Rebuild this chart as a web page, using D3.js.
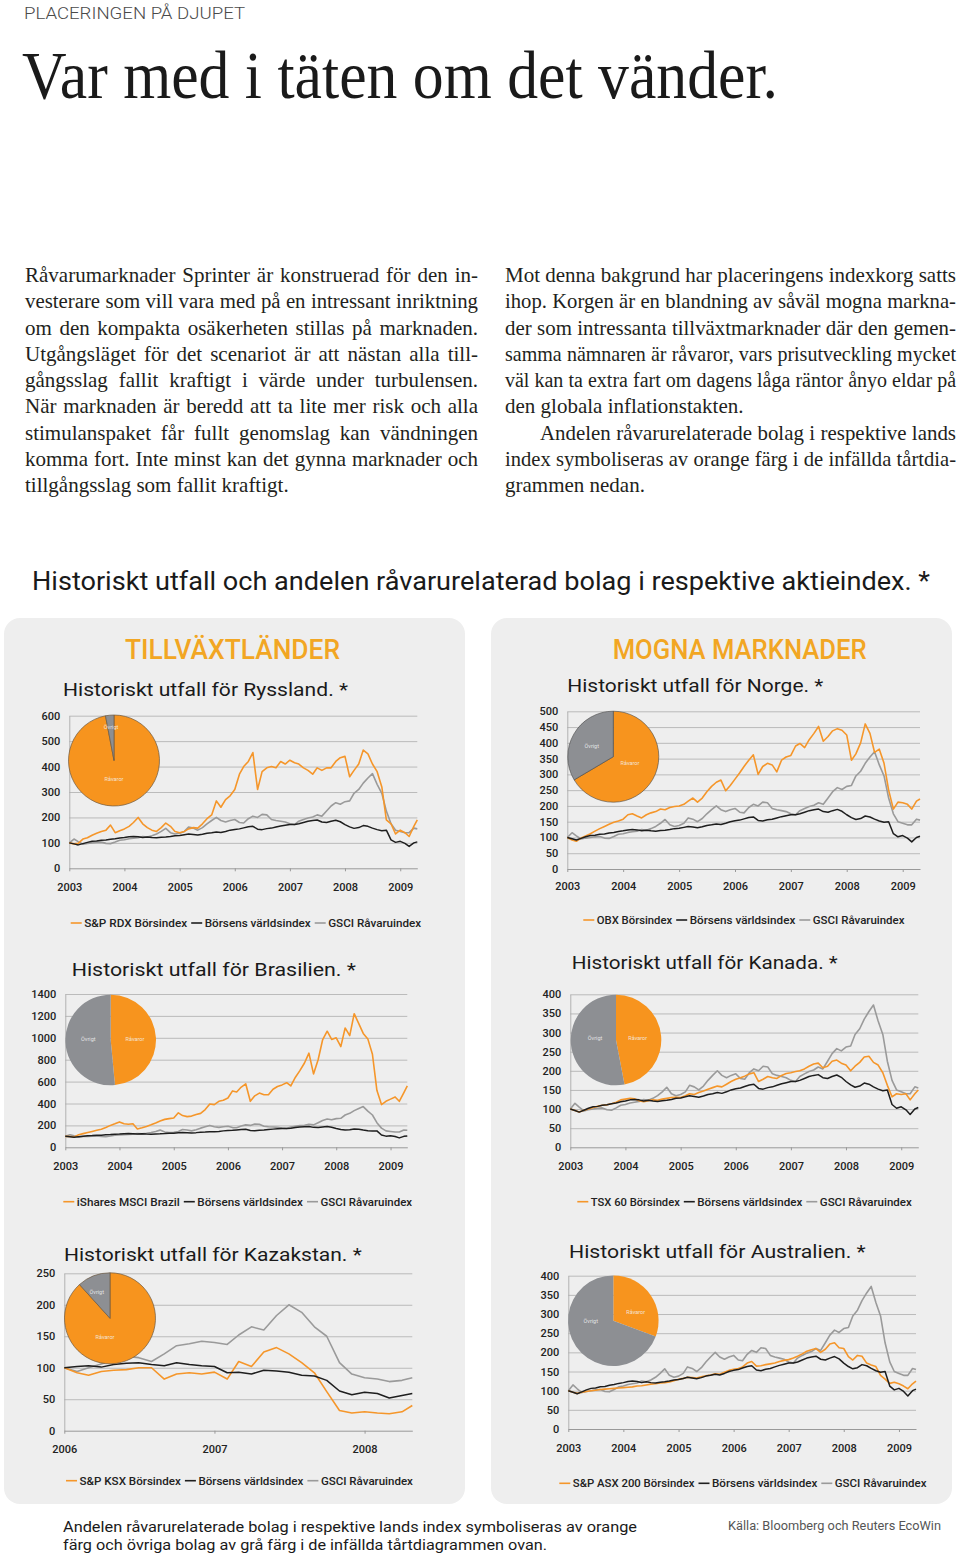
<!DOCTYPE html>
<html><head><meta charset="utf-8">
<script src="https://cdn.jsdelivr.net/npm/d3@7"></script>
<style>body{margin:0;background:#fff}svg{display:block}</style>
</head><body>
<svg id="c" width="960" height="1556"></svg>
<script>
// ---------- DATA ----------
const yearsMain = [2003,2004,2005,2006,2007,2008,2009];
const yearsKaz = [2006,2007,2008];
const yTicksRussia = [0,100,200,300,400,500,600];
const yTicksNorway = [0,50,100,150,200,250,300,350,400,450,500];
const yTicksBrazil = [0,200,400,600,800,1000,1200,1400];
const yTicksCanada = [0,50,100,150,200,250,300,350,400];
const yTicksKaz = [0,50,100,150,200,250];
const yTicksAustralia = [0,50,100,150,200,250,300,350,400];

// monthly readings Jan 2003 ... Apr 2009 + last day shown
const worldIndex = [
100,96,92,97,102,106,107,110,111,114,116,119,
121,124,125,124,121,123,121,120,122,123,125,128,
129,132,135,133,131,134,138,140,143,141,145,150,
153,155,159,163,165,154,152,156,158,162,166,169,
172,172,175,180,185,188,190,182,180,185,189,183,
172,163,157,160,168,165,158,152,148,150,112,102,
106,98,86,100,104];
const gsciIndex = [
100,115,105,95,98,100,102,103,98,97,103,110,
112,116,118,120,125,123,128,135,145,157,140,135,
138,145,162,158,150,160,175,188,200,188,182,188,
192,180,178,195,205,200,212,210,192,188,185,182,
175,172,185,192,198,202,210,205,225,245,258,252,
262,265,295,310,335,355,372,330,295,225,175,150,
145,140,140,158,155];
const russiaRDX = [
100,96,98,115,120,130,138,145,150,170,140,148,
155,165,180,200,175,160,150,145,160,178,165,145,
140,145,155,160,158,175,195,210,265,240,270,285,
310,370,400,420,455,310,380,395,400,395,420,410,
425,415,410,395,385,370,395,385,395,395,420,435,
440,360,385,410,465,450,410,380,320,190,175,135,
150,140,125,165,190];
const norwayOBX = [
100,92,88,98,105,112,120,128,135,142,148,152,
158,172,175,168,162,172,178,182,190,188,195,198,
200,205,215,225,212,225,245,262,275,282,248,265,
285,305,325,345,362,300,325,335,330,308,345,355,
360,390,398,385,410,430,452,405,420,438,445,440,
425,345,365,400,460,430,370,380,335,250,190,212,
210,205,190,215,222];
const brazilMSCI = [
100,98,95,115,125,135,145,155,165,180,200,215,
232,215,210,215,168,178,190,205,222,240,255,262,
268,315,290,280,285,300,310,345,395,390,420,430,
450,515,505,550,580,420,470,495,480,480,530,555,
570,590,560,640,700,770,860,670,800,980,1060,985,
1000,920,1090,1020,1220,1130,1040,990,850,520,390,420,
440,460,420,500,560];
const canadaTSX = [
100,96,92,97,100,104,107,110,111,114,118,124,
126,128,127,122,119,122,124,123,126,128,130,131,
130,135,140,138,143,147,152,156,160,158,165,172,
178,182,186,192,195,172,178,185,182,180,188,193,
195,198,200,205,212,218,220,208,212,225,228,220,
215,200,212,222,236,238,222,215,195,162,132,140,
138,140,124,140,150];
const australiaASX = [
100,96,93,96,98,100,101,103,104,105,106,107,
108,109,110,112,113,115,117,118,120,121,123,126,
130,132,135,134,133,136,139,141,144,143,148,153,
156,158,162,172,176,164,165,168,170,172,176,179,
181,185,190,196,203,207,210,200,208,222,225,212,
210,189,180,192,190,172,167,163,140,130,119,122,
118,112,105,118,125];
// Kazakstan: monthly Jan 2006 ... Apr 2008 + last day shown
const kazKSX = [100,92,88,94,96,97,100,100,82,90,92,90,93,82,110,102,125,132,122,108,92,62,32,28,30,28,27,30,40];
const kazWorld = [100,102,103,101,105,107,108,105,103,108,105,103,102,92,93,90,96,95,93,88,87,80,63,57,61,59,52,56,59];
const kazGSCI = [100,94,100,106,112,118,116,110,122,135,138,142,140,137,152,165,160,183,200,188,165,150,108,90,84,82,78,80,84];

// share of commodity related companies (Råvaror, %) in each index
const pieShareRussia = [97, 3];
const pieShareNorway = [66.5, 33.5];
const pieShareBrazil = [48.5, 51.5];
const pieShareCanada = [47, 53];
const pieShareKaz = [88.3, 11.7];
const pieShareAustralia = [30.7, 69.3];
const pieLabels = ['Råvaror','Övrigt'];

const legendRussia = ['S&P RDX Börsindex','Börsens världsindex','GSCI Råvaruindex'];
const legendNorway = ['OBX Börsindex','Börsens världsindex','GSCI Råvaruindex'];
const legendBrazil = ['iShares MSCI Brazil','Börsens världsindex','GSCI Råvaruindex'];
const legendCanada = ['TSX 60 Börsindex','Börsens världsindex','GSCI Råvaruindex'];
const legendKaz = ['S&P KSX Börsindex','Börsens världsindex','GSCI Råvaruindex'];
const legendAustralia = ['S&P ASX 200 Börsindex','Börsens världsindex','GSCI Råvaruindex'];

const kicker = 'PLACERINGEN PÅ DJUPET';
const headline = 'Var med i täten om det vänder.';
const leftColumn = [
'Råvarumarknader Sprinter är konstruerad för den in-',
'vesterare som vill vara med på en intressant inriktning',
'om den kompakta osäkerheten stillas på marknaden.',
'Utgångsläget för det scenariot är att nästan alla till-',
'gångsslag fallit kraftigt i värde under turbulensen.',
'När marknaden är beredd att ta lite mer risk och alla',
'stimulanspaket får fullt genomslag kan vändningen',
'komma fort. Inte minst kan det gynna marknader och',
'tillgångsslag som fallit kraftigt.'];
const rightColumn = [
'Mot denna bakgrund har placeringens indexkorg satts',
'ihop. Korgen är en blandning av såväl mogna markna-',
'der som intressanta tillväxtmarknader där den gemen-',
'samma nämnaren är råvaror, vars prisutveckling mycket',
'väl kan ta extra fart om dagens låga räntor ånyo eldar på',
'den globala inflationstakten.',
'Andelen råvarurelaterade bolag i respektive lands',
'index symboliseras av orange färg i de infällda tårtdia-',
'grammen nedan.'];
const sectionTitle = 'Historiskt utfall och andelen råvarurelaterad bolag i respektive aktieindex. *';
const groupLeft = 'TILLVÄXTLÄNDER', groupRight = 'MOGNA MARKNADER';
const chartTitles = ['Historiskt utfall för Ryssland. *','Historiskt utfall för Norge. *','Historiskt utfall för Brasilien. *','Historiskt utfall för Kanada. *','Historiskt utfall för Kazakstan. *','Historiskt utfall för Australien. *'];
const footnote = ['Andelen råvarurelaterade bolag i respektive lands index symboliseras av orange','färg och övriga bolag av grå färg i de infällda tårtdiagrammen ovan.'];
const source = 'Källa: Bloomberg och Reuters EcoWin';

// ---------- DRAW ----------
const svg = d3.select('#c');
const ORANGE = '#f5962a', PIE_OR = '#f7941e', PIE_GR = '#8d8f93', GRAY = '#9a9a9a', BLACK = '#1e1e1e';
const SANS = 'Roboto, "Noto Sans", sans-serif';
const SERIF = '"Liberation Serif", "DejaVu Serif", serif';

svg.append('rect').attr('width',960).attr('height',1556).attr('fill','#fff');

function fitText(x,y,str,size,w,opts={}){
  const t = svg.append('text').attr('x',x).attr('y',y).attr('font-family',opts.family||SANS)
    .attr('font-size',size).attr('fill',opts.fill||'#1a1a1a').attr('font-weight',opts.weight||400).text(str);
  if(w) t.attr('textLength',w).attr('lengthAdjust','spacingAndGlyphs');
  return t;
}
fitText(24,19,kicker,16,221,{weight:300,fill:'#4a4a4a'});
fitText(22,98,headline,68,756,{family:SERIF,fill:'#1a1a1a'});

function column(lines,x,w,indentIdx,lastIdx){
  lines.forEach((s,i)=>{
    const xi = indentIdx.includes(i) ? x+35 : x;
    const wi = w - (xi-x);
    let fs = 21;
    const t = svg.append('text').attr('x',xi).attr('y',282+26.25*i).attr('font-family',SERIF)
      .attr('font-size',fs).attr('fill','#231f20').text(s);
    let L = t.node().getComputedTextLength();
    if(L>wi){ fs = fs*wi/L*0.998; t.attr('font-size',fs); L = t.node().getComputedTextLength(); }
    if(lastIdx.includes(i)) return;
    const sp = (s.match(/ /g)||[]).length;
    if(L<wi && sp>0) t.attr('word-spacing',(wi-L)/sp);
  });
}
column(leftColumn,25,453,[],[8]);
column(rightColumn,505,451,[6],[5,8]);

fitText(32,590,sectionTitle,25,898,{weight:400,fill:'#1a1a1a'});

// panels
svg.append('rect').attr('x',4).attr('y',618).attr('width',461).attr('height',886).attr('rx',16).attr('fill','#eeeeee');
svg.append('rect').attr('x',491).attr('y',618).attr('width',461).attr('height',886).attr('rx',16).attr('fill','#eeeeee');
fitText(125,659,groupLeft,27,215,{weight:500,fill:'#f2a623'});
fitText(612.7,659,groupRight,27,254,{weight:500,fill:'#f2a623'});

const mainDates = d3.timeMonth.range(new Date(2003,0,1), new Date(2009,4,1)).concat([new Date(2009,3,24)]);
const kazDates = d3.timeMonth.range(new Date(2006,0,1), new Date(2008,4,1)).concat([new Date(2008,3,26)]);
const mainDomain = [new Date(2003,0,1), new Date(2009,3,24)];
const kazDomain = [new Date(2006,0,1), new Date(2008,3,26)];

const charts = [
 {t:0, tx:63, ty:696, tw:285, x0:69.3, x1:417.3, yB:868.3, yT:715.7, yt:yTicksRussia, dates:mainDates, dom:mainDomain, xt:yearsMain, xPad:12,
  s:[gsciIndex,russiaRDX,worldIndex], pie:{cx:114,cy:760.5,r:45.5,share:pieShareRussia,lr:[0,18.5],lo:[-3,-34],stroke:true},
  lg:{x:70.7,y:923,labels:legendRussia,w:[103,106,93]}},
 {t:1, tx:567.3, ty:691.7, tw:256, x0:567.3, x1:920, yB:869, yT:711.3, yt:yTicksNorway, dates:mainDates, dom:mainDomain, xt:yearsMain, xPad:10,
  s:[gsciIndex,norwayOBX,worldIndex], pie:{cx:613.3,cy:756.7,r:45.5,share:pieShareNorway,lr:[16.7,6.6],lo:[-21.6,-10.7],edge:true},
  lg:{x:583.3,y:920,labels:legendNorway,w:[75.4,105.6,91.7]}},
 {t:2, tx:71.7, ty:976, tw:284.3, x0:65.3, x1:407.3, yB:1147.3, yT:994, yt:yTicksBrazil, dates:mainDates, dom:mainDomain, xt:yearsMain, xPad:12,
  s:[gsciIndex,brazilMSCI,worldIndex], pie:{cx:110.7,cy:1040,r:45.3,share:pieShareBrazil,lr:[24.3,-1],lo:[-22.4,-1]},
  lg:{x:63.3,y:1201.7,labels:legendBrazil,w:[103,105.7,91.6]}},
 {t:3, tx:571.7, ty:969.3, tw:266, x0:570.3, x1:918.3, yB:1147.3, yT:994.3, yt:yTicksCanada, dates:mainDates, dom:mainDomain, xt:yearsMain, xPad:12,
  s:[gsciIndex,canadaTSX,worldIndex], pie:{cx:616,cy:1040,r:45.3,share:pieShareCanada,lr:[21.7,-1.7],lo:[-21,-1.7]},
  lg:{x:577.3,y:1201.7,labels:legendCanada,w:[89,105,92]}},
 {t:4, tx:64, ty:1260.7, tw:297.7, x0:64.3, x1:412.3, yB:1430.7, yT:1273.3, yt:yTicksKaz, dates:kazDates, dom:kazDomain, xt:yearsKaz, xPad:12,
  s:[kazGSCI,kazKSX,kazWorld], pie:{cx:110,cy:1318.3,r:45.5,share:pieShareKaz,lr:[-5,19],lo:[-13.3,-26.6],stroke:true},
  lg:{x:66,y:1480.7,labels:legendKaz,w:[101.4,105,92]}},
 {t:5, tx:569, ty:1258.3, tw:296.7, x0:568.3, x1:916, yB:1429, yT:1275.7, yt:yTicksAustralia, dates:mainDates, dom:mainDomain, xt:yearsMain, xPad:12,
  s:[gsciIndex,australiaASX,worldIndex], pie:{cx:613.3,cy:1320.7,r:45.3,share:pieShareAustralia,lr:[22.4,-9],lo:[-22.6,0.3]},
  lg:{x:559.3,y:1483.3,labels:legendAustralia,w:[121.7,105.3,91.7]}}
];

const seriesColors = [GRAY, ORANGE, BLACK];
const legendColors = [ORANGE, BLACK, GRAY];

charts.forEach(c=>{
  fitText(c.tx,c.ty,chartTitles[c.t],19,c.tw,{weight:400,fill:'#1a1a1a'});
  const x = d3.scaleTime().domain(c.dom).range([c.x0,c.x1]);
  const y = d3.scaleLinear().domain([0,d3.max(c.yt)]).range([c.yB,c.yT]);
  const g = svg.append('g');
  // grid
  const grid = g.append('g').attr('transform',`translate(${c.x0},0)`)
    .call(d3.axisLeft(y).tickValues(c.yt.slice(1)).tickSize(-(c.x1-c.x0)).tickFormat(''));
  grid.select('.domain').remove();
  grid.selectAll('line').attr('stroke','#b4b4b4').attr('stroke-width',0.9);
  // y axis line + labels
  const ya = g.append('g').attr('transform',`translate(${c.x0},0)`)
    .call(d3.axisLeft(y).tickValues(c.yt).tickSize(0).tickPadding(9).tickFormat(d3.format('d')));
  ya.select('.domain').attr('stroke','#aaaaaa').attr('stroke-width',0.9);
  ya.selectAll('text').attr('font-family',SANS).attr('font-size',11).attr('font-weight',500).attr('fill','#222');
  // x axis
  const xa = g.append('g').attr('transform',`translate(0,${c.yB})`)
    .call(d3.axisBottom(x).tickValues(c.xt.map(v=>new Date(v,0,1))).tickFormat(d3.timeFormat('%Y')).tickSize(3).tickPadding(c.xPad).tickSizeOuter(0));
  xa.select('.domain').attr('stroke','#999').attr('stroke-width',1);
  xa.selectAll('line').attr('stroke','#999');
  xa.selectAll('text').attr('font-family',SANS).attr('font-size',11).attr('font-weight',500).attr('fill','#222');
  // lines
  const line = d3.line().x((d,i)=>x(c.dates[i])).y(d=>y(d));
  c.s.forEach((arr,k)=>{
    g.append('path').datum(arr).attr('d',line).attr('fill','none')
      .attr('stroke',seriesColors[k]).attr('stroke-width',k===2?1.5:1.6).attr('stroke-linejoin','round');
  });
  // pie
  const p = c.pie;
  const arcs = d3.pie().sort(null)(p.share);
  const arc = d3.arc().innerRadius(0).outerRadius(p.r);
  const pg = g.append('g').attr('transform',`translate(${p.cx},${p.cy})`);
  pg.selectAll('path').data(arcs).join('path').attr('d',arc)
    .attr('fill',(d,i)=>i===0?PIE_OR:PIE_GR)
    .attr('stroke',p.stroke?'#6d5a44':(p.edge?'#4a4a4a':'none')).attr('stroke-width',p.stroke?0.7:(p.edge?0.6:0));
  [[p.lr,pieLabels[0]],[p.lo,pieLabels[1]]].forEach(([o,txt])=>{
    pg.append('text').attr('x',o[0]).attr('y',o[1]+2).attr('text-anchor','middle').attr('font-family',SANS)
      .attr('font-size',5.5).attr('fill','#f4f4f4').attr('fill-opacity',0.85).text(txt);
  });
  // legend
  let lx = c.lg.x;
  c.lg.labels.forEach((lab,i)=>{
    g.append('line').attr('x1',lx).attr('x2',lx+11).attr('y1',c.lg.y).attr('y2',c.lg.y)
      .attr('stroke',legendColors[i]).attr('stroke-width',1.6);
    g.append('text').attr('x',lx+13.5).attr('y',c.lg.y+4).attr('font-family',SANS).attr('font-size',11)
      .attr('font-weight',500).attr('fill','#222').attr('textLength',c.lg.w[i]).attr('lengthAdjust','spacingAndGlyphs').text(lab);
    lx = lx + 13.5 + c.lg.w[i] + 4;
  });
});

// footer
fitText(63,1532,footnote[0],15.5,574,{weight:400,fill:'#1a1a1a'});
fitText(63,1550,footnote[1],15.5,484,{weight:400,fill:'#1a1a1a'});
fitText(728,1530,source,12,213,{weight:400,fill:'#555'});
</script>
</body></html>
